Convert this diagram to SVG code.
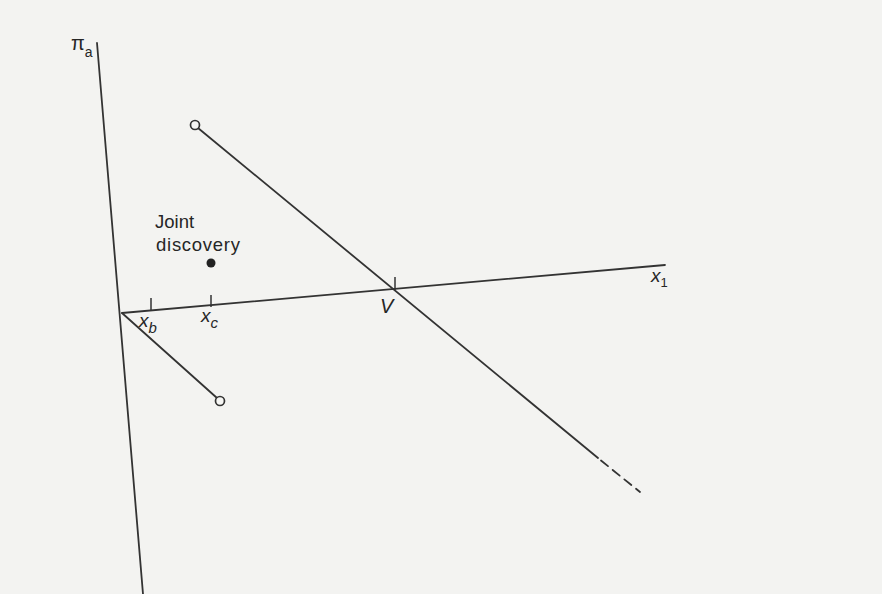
<svg xmlns="http://www.w3.org/2000/svg" width="882" height="594" viewBox="0 0 882 594">
<style>
.ln{stroke:#333;stroke-width:1.8;fill:none;stroke-linecap:round}
.tk{stroke:#333;stroke-width:1.5}
.oc{fill:#f6f6f4;stroke:#333;stroke-width:1.7}
.t{font-family:"Liberation Sans",Arial,sans-serif;fill:#262626}
.it{font-style:italic}
</style>
<rect width="882" height="594" fill="#f3f3f1"/>
<g id="connectors">
<line class="ln" x1="97" y1="43" x2="143" y2="594"/>
<line class="ln" x1="122" y1="313" x2="665" y2="265"/>
<line class="ln" x1="198" y1="128" x2="598" y2="458"/>
<line class="ln" x1="601" y1="460.5" x2="640" y2="492" stroke-dasharray="9 6" stroke-linecap="butt"/>
<line class="ln" x1="122" y1="313" x2="217" y2="398"/>
</g>
<g id="axis-pi">
<text class="t" x="71" y="50" font-size="20">π<tspan font-size="14" dy="7">a</tspan></text>
</g>
<g id="axis-x1">
<text class="t it" x="651" y="282" font-size="19">x<tspan font-size="13" dy="5" font-style="normal">1</tspan></text>
</g>
<g id="tick-V">
<line class="tk" x1="395" y1="277" x2="395" y2="290"/>
<text class="t it" x="380" y="313" font-size="20">V</text>
</g>
<g id="tick-xb">
<line class="tk" x1="151" y1="298" x2="151" y2="310"/>
<text class="t it" x="139" y="327" font-size="19">x<tspan font-size="15" dy="6">b</tspan></text>
</g>
<g id="tick-xc">
<line class="tk" x1="211" y1="295" x2="211" y2="307"/>
<text class="t it" x="201" y="322" font-size="19">x<tspan font-size="15" dy="6">c</tspan></text>
</g>
<g id="joint-discovery">
<text class="t" x="155" y="228" font-size="18.5">Joint</text>
<text class="t" x="156" y="251" font-size="18.5" textLength="84">discovery</text>
<circle cx="211" cy="263" r="4.5" fill="#222"/>
</g>
<g id="endpoint-upper">
<circle class="oc" cx="195" cy="125" r="4.5"/>
</g>
<g id="endpoint-lower">
<circle class="oc" cx="220" cy="401" r="4.5"/>
</g>
</svg>
